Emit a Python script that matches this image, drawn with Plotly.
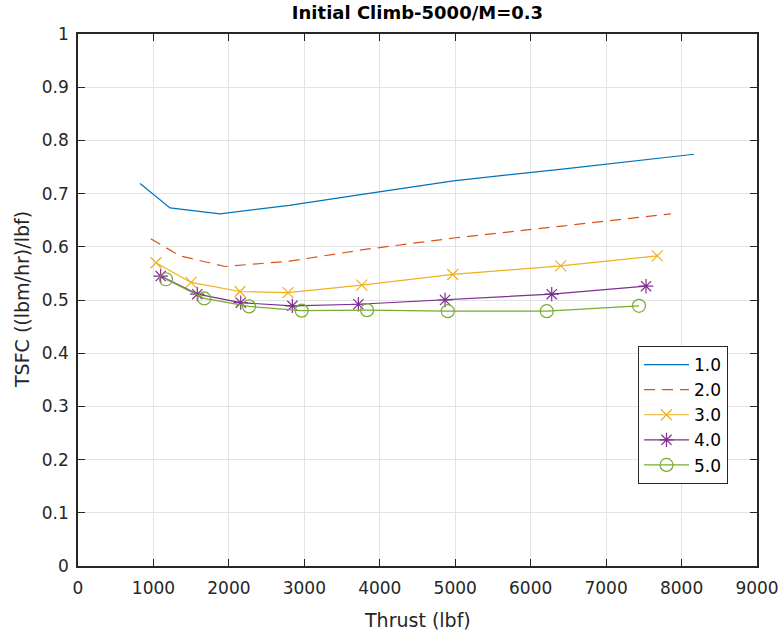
import plotly.graph_objects as go

# Thrust (lbf) and TSFC ((lbm/hr)/lbf) for each throttle setting
labels = ["1.0", "2.0", "3.0", "4.0", "5.0"]

thrust_10 = [822, 1220, 1882, 2800, 3790, 4975, 6480, 8165]
tsfc_10 = [0.719, 0.673, 0.662, 0.678, 0.699, 0.724, 0.747, 0.774]

thrust_20 = [964, 1352, 1949, 2800, 3800, 5010, 6420, 7857]
tsfc_20 = [0.615, 0.583, 0.563, 0.573, 0.595, 0.617, 0.639, 0.662]

thrust_30 = [1034, 1498, 2147, 2784, 3761, 4967, 6398, 7679]
tsfc_30 = [0.570, 0.533, 0.516, 0.514, 0.528, 0.548, 0.564, 0.583]

thrust_40 = [1096, 1581, 2157, 2841, 3716, 4865, 6279, 7529]
tsfc_40 = [0.545, 0.511, 0.495, 0.489, 0.492, 0.500, 0.511, 0.526]

thrust_50 = [1166, 1674, 2267, 2965, 3831, 4901, 6213, 7436]
tsfc_50 = [0.539, 0.503, 0.488, 0.480, 0.481, 0.479, 0.479, 0.489]

xs = [thrust_10, thrust_20, thrust_30, thrust_40, thrust_50]
ys = [tsfc_10, tsfc_20, tsfc_30, tsfc_40, tsfc_50]

colors = ["#0072BD", "#D95319", "#EDB120", "#7E2F8E", "#77AC30"]
dashes = ["solid", "11px,7px", "solid", "solid", "solid"]
symbols = [None, None, "x-thin-open", "asterisk-open", "circle-open"]
sizes = [0, 0, 11, 12, 13]

FONT = "DejaVu Sans"
INK = "#262626"

# plot area in pixels
L, R, T, B = 78, 757, 34, 566
W, H = 780, 635

fig = go.Figure()
for i, name in enumerate(labels):
    has_marker = symbols[i] is not None
    fig.add_trace(go.Scatter(
        x=xs[i], y=ys[i], name=name,
        mode="lines+markers" if has_marker else "lines",
        line=dict(color=colors[i], width=1.2, dash=dashes[i]),
        marker=dict(symbol=symbols[i], size=sizes[i], color=colors[i],
                    line=dict(color=colors[i], width=1.2)) if has_marker else None,
    ))

axis_common = dict(
    showline=True, linecolor=INK, linewidth=1.5, mirror="ticks",
    ticks="inside", ticklen=7, tickwidth=1.2, tickcolor=INK,
    showgrid=True, gridcolor="#e3e3e3", gridwidth=1,
    zeroline=False, automargin=False,
    tickfont=dict(family=FONT, size=17, color=INK),
)

fig.update_layout(
    width=W, height=H,
    margin=dict(l=L, r=W - R, t=T, b=H - B),
    paper_bgcolor="white", plot_bgcolor="white",
    title=dict(text="<b>Initial Climb-5000/M=0.3</b>",
               font=dict(family=FONT, size=18, color="black"),
               x=(L + R) / 2 / W, xanchor="center",
               yref="container", y=1 - 13 / H, yanchor="middle"),
    xaxis=dict(range=[0, 9000], tickvals=list(range(0, 9001, 1000)),
               ticklabelstandoff=6, **axis_common),
    yaxis=dict(range=[0, 1], tickvals=[i / 10 for i in range(11)],
               ticktext=["0", "0.1", "0.2", "0.3", "0.4", "0.5", "0.6", "0.7", "0.8", "0.9", "1"],
               ticklabelstandoff=4, **axis_common),
    legend=dict(x=(638 - L) / (R - L), xanchor="left",
                y=(B - 346) / (B - T), yanchor="top",
                bgcolor="white", bordercolor=INK, borderwidth=1,
                font=dict(family=FONT, size=17, color="black"),
                itemwidth=45, tracegroupgap=0),
    showlegend=True,
    annotations=[
        dict(text="Thrust (lbf)", xref="paper", yref="paper",
             x=0.5, y=(B - 620) / (B - T), xanchor="center", yanchor="middle",
             showarrow=False, font=dict(family=FONT, size=19, color=INK)),
        dict(text="TSFC ((lbm/hr)/lbf)", xref="paper", yref="paper",
             x=(22 - L) / (R - L), y=0.5, xanchor="center", yanchor="middle",
             textangle=-90, showarrow=False,
             font=dict(family=FONT, size=19, color=INK)),
    ],
)

fig.write_html("out.html")
